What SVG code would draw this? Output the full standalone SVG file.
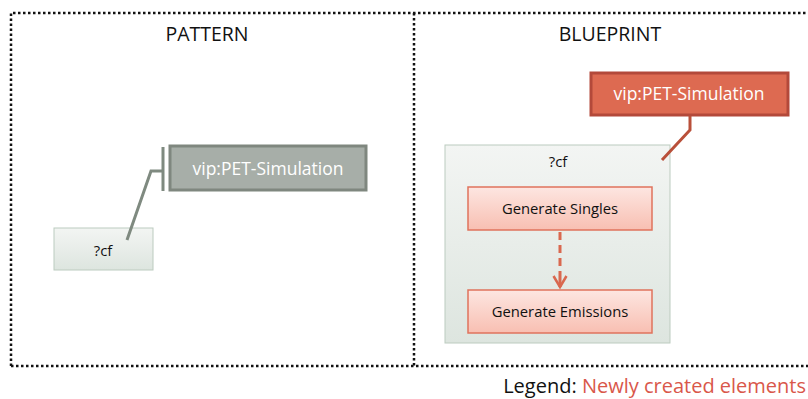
<svg xmlns="http://www.w3.org/2000/svg" width="808" height="399" viewBox="0 0 808 399">
<style>
text{font-family:"Open Sans","Noto Sans","Liberation Sans",sans-serif;}
.frame{fill:none;stroke:#111;stroke-width:2.5;stroke-dasharray:2.5 2.5;}
.title{font-size:19.5px;fill:#111;text-anchor:middle;}
.lbl{font-size:14.8px;fill:#111;text-anchor:middle;}
.big{font-size:17.5px;fill:#fff;text-anchor:middle;}
.task{stroke:#e0735c;stroke-width:1.5;fill:url(#pink);}
</style>
<defs>
<linearGradient id="grey" x1="0" y1="0" x2="0" y2="1">
<stop offset="0" stop-color="#f3f5f3"/><stop offset="1" stop-color="#dde5df"/>
</linearGradient>
<linearGradient id="pink" x1="0" y1="0" x2="0" y2="1">
<stop offset="0" stop-color="#fde6e1"/><stop offset="1" stop-color="#f8bfb2"/>
</linearGradient>
<marker id="vhead" markerWidth="16" markerHeight="16" refX="13" refY="8" orient="auto" markerUnits="userSpaceOnUse" viewBox="0 0 16 16">
<path d="M2,1.5 L13,8 L2,14.5" fill="none" stroke="#d9684f" stroke-width="2.5"/>
</marker>
</defs>
<g id="frames">
<path class="frame" d="M11,366 L11,13 L810,13"/>
<path class="frame" d="M11,366 L810,366"/>
<path class="frame" d="M414,13 L414,366"/>
</g>
<text class="title" x="207" y="41">PATTERN</text>
<text class="title" x="610" y="41">BLUEPRINT</text>
<g id="pattern-cf">
<rect x="54" y="228" width="99" height="42" fill="url(#grey)" stroke="#bccbbf" stroke-width="1"/>
<text class="lbl" x="103" y="256">?cf</text>
</g>
<g id="pattern-vip">
<rect x="170" y="146" width="196" height="44" fill="#a7aea8" stroke="#7f877f" stroke-width="3"/>
<text class="big" x="268" y="175">vip:PET-Simulation</text>
</g>
<g id="blueprint-cf">
<rect x="445" y="145" width="225" height="198" fill="url(#grey)" stroke="#bccbbf" stroke-width="1"/>
<text class="lbl" x="558" y="167">?cf</text>
</g>
<g id="generate-singles">
<rect class="task" x="468" y="187" width="184" height="43"/>
<text class="lbl" x="560" y="214">Generate Singles</text>
</g>
<g id="generate-emissions">
<rect class="task" x="468" y="290" width="184" height="43"/>
<text class="lbl" x="560" y="317">Generate Emissions</text>
</g>
<g id="blueprint-vip">
<rect x="591" y="73" width="197" height="42" fill="#dd6a51" stroke="#b3493a" stroke-width="3"/>
<text class="big" x="689" y="100">vip:PET-Simulation</text>
</g>
<g id="connectors">
<path d="M163,147 L163,191 M163,171 L151,171 L127,240" fill="none" stroke="#7f8a80" stroke-width="3"/>
<path d="M690,116 L690,130 L662,160" fill="none" stroke="#b9503a" stroke-width="3"/>
<path d="M560,232 L560,276" fill="none" stroke="#d9684f" stroke-width="3" stroke-dasharray="8 5"/>
<path d="M560,276 L560,287" fill="none" stroke="#d9684f" stroke-width="3" marker-end="url(#vhead)"/>
</g>
<text x="806" y="393" font-size="20" text-anchor="end" fill="#111">Legend: <tspan fill="#d9574a">Newly created elements</tspan></text>
</svg>
